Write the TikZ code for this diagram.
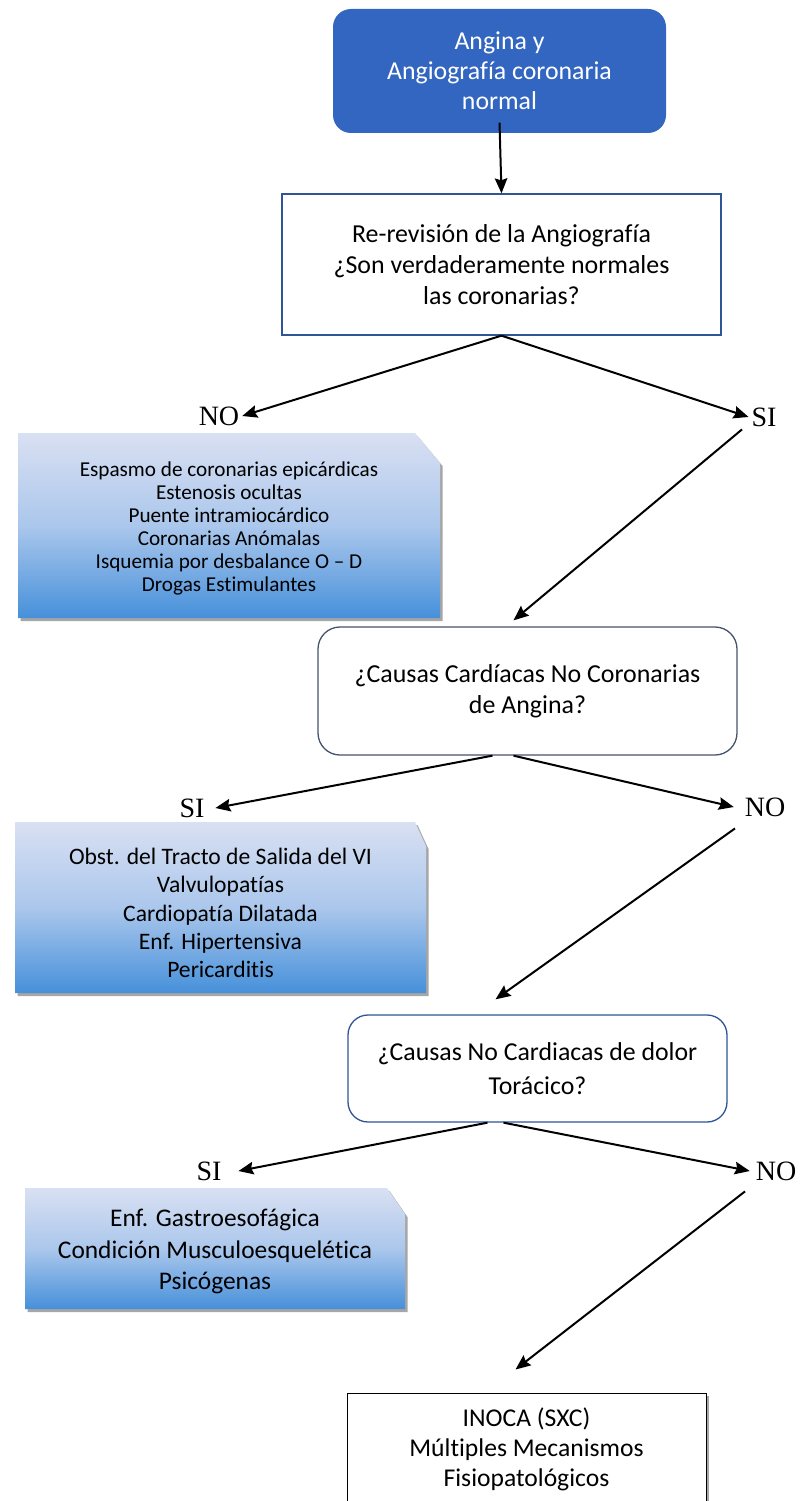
\documentclass[tikz,border=0pt]{standalone}
\usepackage{fontspec}
\setmainfont{Carlito}[Ligatures=NoCommon]
\newfontfamily\labfont{Liberation Serif}
\usetikzlibrary{arrows.meta, positioning, shadows, backgrounds}

\definecolor{boxblue}{HTML}{3366C0}
\definecolor{lineblue}{HTML}{2F5597}
\definecolor{slate}{HTML}{44546A}
\definecolor{gradtop}{HTML}{D9E0F2}
\definecolor{gradmid}{HTML}{ABC7EC}
\definecolor{gradbot}{HTML}{4690DA}

\begin{document}
\begin{tikzpicture}[x=1pt, y=-1pt, >={Stealth[length=15pt, width=12.5pt, inset=2pt]}, line width=2pt,
  question/.style={draw=lineblue, line width=1.3pt, fill=white, align=center, inner sep=0pt},
  causes/.style={align=center, inner sep=0pt},
  causefill/.style={top color=gradtop, bottom color=gradbot, middle color=gradmid,
    drop shadow={shadow xshift=2.5pt, shadow yshift=-3pt, fill=black, opacity=0.35}},
  answer/.style={font=\labfont\fontsize{28}{30}\selectfont, inner sep=2pt}]

\clip (0,0) rectangle (801,1501);

% Starting box
\node[question, draw=none, fill=boxblue, text=white, rounded corners=18pt,
  minimum width=333pt, minimum height=124pt, font=\fontsize{25.8}{30}\selectfont]
  (angio) at (499.5,71) {Angina y\\Angiografía coronaria\\normal};

% First question
\node[question, minimum width=439pt, minimum height=141pt, font=\fontsize{25.9}{31}\selectfont]
  (rev) at (501.5,264.5) {Re-revisión de la Angiografía\\¿Son verdaderamente normales\\las coronarias?};

% Answers of the first question
\node[answer] (no1) at (219,416) {NO};
\node[answer] (si1) at (764,417) {SI};

\node[causes, minimum width=422pt, minimum height=185pt, font=\fontsize{21.2}{23}\selectfont]
  (epi) at (229,528) {Espasmo de coronarias epicárdicas\\Estenosis ocultas\\Puente intramiocárdico\\Coronarias Anómalas\\Isquemia por desbalance O -- D\\Drogas Estimulantes};

% Second question
\node[question, draw=slate, rounded corners=22pt, minimum width=419pt, minimum height=128pt,
  font=\fontsize{25.9}{31.5}\selectfont]
  (card) at (527.5,691) {¿Causas Cardíacas No Coronarias\\de Angina?};

\node[answer] (si2) at (192,808) {SI};
\node[answer] (no2) at (765,807) {NO};

\node[causes, minimum width=411pt, minimum height=171pt, font=\fontsize{23.6}{28.3}\selectfont]
  (valv) at (220.5,913) {Obst. del Tracto de Salida del VI\\Valvulopatías\\Cardiopatía Dilatada\\Enf. Hipertensiva\\Pericarditis};

% Third question
\node[question, rounded corners=20pt, minimum width=379pt, minimum height=107pt,
  font=\fontsize{25.8}{34}\selectfont]
  (nonc) at (537.5,1068.5) {¿Causas No Cardiacas de dolor\\Torácico?};

\node[answer] (si3) at (209,1171) {SI};
\node[answer] (no3) at (776,1171) {NO};

\node[causes, minimum width=380pt, minimum height=121pt, font=\fontsize{25.4}{31.5}\selectfont]
  (gastro) at (215,1251.5) {Enf. Gastroesofágica\\Condición Musculoesquelética\\Psicógenas};

% Final box
\node[question, draw=black, line width=1pt, minimum width=359pt, minimum height=112pt,
  font=\fontsize{25.6}{30}\selectfont,
  drop shadow={shadow xshift=2.5pt, shadow yshift=-3pt, fill=black, opacity=0.35}]
  (ino) at (526.5,1449) {INOCA (SXC)\\Múltiples Mecanismos\\Fisiopatológicos};

% Shaded boxes with a cut corner, behind their lists
\begin{scope}[on background layer]
\path[causefill] (18,618) -- (18,433) -- (415,433) -- (440,463) -- (440,618) -- cycle;
\path[causefill] (15,993) -- (15,822) -- (415,822) -- (426,846) -- (426,993) -- cycle;
\path[causefill] (25,1309) -- (25,1188) -- (387,1188) -- (405,1214) -- (405,1309) -- cycle;
\end{scope}

% Connectors
\draw[->] ([yshift=11pt]angio.south) -- (rev.north);
\draw[->] (rev.south) -- (no1.east);
\draw[->] (rev.south) -- (si1.west);
\draw[->] ([xshift=-22pt]si1.south) -- ([xshift=-14pt,yshift=6pt]card.north);

\draw[->] ([xshift=-35pt]card.south) -- ([xshift=8pt]si2.east);
\draw[->] ([xshift=-14pt]card.south) -- ([xshift=-8pt]no2.west);
\draw[->] ([xshift=-30pt,yshift=-9pt]no2.south) -- ([xshift=-42pt,yshift=15pt]nonc.north);

\draw[->] ([xshift=-50pt]nonc.south) -- ([xshift=14pt]si3.east);
\draw[->] ([xshift=-34pt]nonc.south) -- ([xshift=-3pt]no3.west);
\draw[->] ([xshift=-31pt,yshift=-8pt]no3.south) -- ([xshift=-11pt,yshift=23pt]ino.north);

\end{tikzpicture}
\end{document}
